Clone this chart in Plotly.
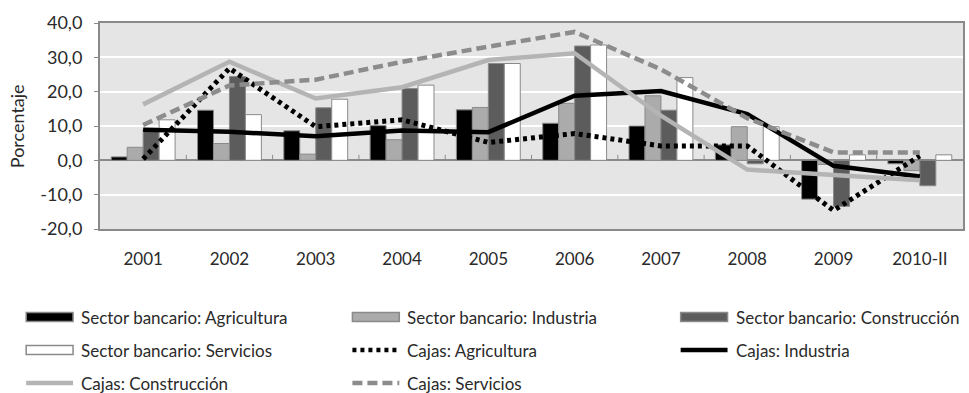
import plotly.graph_objects as go

# Tasa de variación anual del crédito por sector (%)
years = ["2001", "2002", "2003", "2004", "2005", "2006", "2007", "2008", "2009", "2010-II"]

sb_agricultura = [1.0, 14.6, 8.6, 10.1, 14.7, 10.8, 10.0, 4.5, -11.3, -1.0]
sb_industria = [3.8, 4.9, 1.8, 6.0, 15.4, 16.6, 18.8, 9.8, -1.2, -3.0]
sb_construccion = [9.1, 24.4, 15.3, 20.9, 28.2, 33.3, 14.6, -1.0, -13.4, -7.4]
sb_servicios = [11.8, 13.3, 17.8, 21.9, 28.2, 33.6, 24.1, 9.8, 1.6, 1.6]

cj_agricultura = [0.4, 26.8, 9.8, 11.8, 5.2, 7.8, 4.2, 4.2, -14.6, 1.3]
cj_industria = [8.9, 8.3, 7.0, 8.7, 8.2, 18.8, 20.2, 13.5, -1.6, -4.7]
cj_construccion = [16.3, 28.7, 18.0, 21.3, 29.2, 31.2, 13.0, -2.7, -4.3, -5.8]
cj_servicios = [10.3, 21.8, 23.5, 28.7, 33.1, 37.4, 26.5, 12.3, 2.3, 2.3]

y_ticks = [-20, -10, 0, 10, 20, 30, 40]
y_tick_labels = ["-20,0", "-10,0", "0,0", "10,0", "20,0", "30,0", "40,0"]

FONT = "Lato"
TEXT = "#2a2a2a"
W, H = 969, 393
ML, MR, MT, MB = 100, 4, 23, 164
PLOT_W = W - ML - MR
PLOT_H = H - MT - MB

GREY_EDGE = "#8a8a8a"

bar_series = [
    ("Sector bancario: Agricultura", sb_agricultura, "#000000", GREY_EDGE),
    ("Sector bancario: Industria", sb_industria, "#ababab", GREY_EDGE),
    ("Sector bancario: Construcción", sb_construccion, "#5c5c5c", GREY_EDGE),
    ("Sector bancario: Servicios", sb_servicios, "#ffffff", GREY_EDGE),
]
line_series = [
    ("Cajas: Agricultura", cj_agricultura, "#000000", "4px,4px", 5),
    ("Cajas: Industria", cj_industria, "#000000", "solid", 4.5),
    ("Cajas: Construcción", cj_construccion, "#b4b4b4", "solid", 4.5),
    ("Cajas: Servicios", cj_servicios, "#8c8c8c", "10px,5px", 4.5),
]

fig = go.Figure()

for name, vals, fill, edge in bar_series:
    fig.add_trace(go.Bar(
        x=years, y=vals, name=name, showlegend=False,
        marker=dict(color=fill, line=dict(color=edge, width=1)),
    ))

for name, vals, color, dash, width in line_series:
    fig.add_trace(go.Scatter(
        x=years, y=vals, name=name, mode="lines", showlegend=False,
        line=dict(color=color, dash=dash, width=width),
    ))


def px_x(px):
    return (px - ML) / PLOT_W


def px_y(py):
    return (MT + PLOT_H - py) / PLOT_H


shapes = []
annotations = []

# small category separators on the zero line
for i in range(len(years) - 1):
    shapes.append(dict(type="line", xref="x", yref="y", x0=i + 0.5, x1=i + 0.5,
                       y0=0, y1=1.6, line=dict(color=GREY_EDGE, width=1)))

# legend: three columns, row-major order
col_x = [26, 353, 682]
row_y = [317, 350, 383]
sw_w = 47
entries = [("bar", b) for b in bar_series] + [("line", l) for l in line_series]
for k, (kind, spec) in enumerate(entries):
    cx = col_x[k % 3]
    cy = row_y[k // 3]
    if kind == "bar":
        name, _, fill, edge = spec
        shapes.append(dict(type="rect", xref="paper", yref="paper",
                           x0=px_x(cx), x1=px_x(cx + sw_w),
                           y0=px_y(cy + 4.5), y1=px_y(cy - 4.5),
                           fillcolor=fill, line=dict(color=edge, width=1.5)))
    else:
        name, _, color, dash, width = spec
        shapes.append(dict(type="line", xref="paper", yref="paper",
                           x0=px_x(cx), x1=px_x(cx + sw_w),
                           y0=px_y(cy), y1=px_y(cy),
                           line=dict(color=color, dash=dash, width=min(width, 4.5))))
    annotations.append(dict(text=name, xref="paper", yref="paper",
                            x=px_x(cx + sw_w + 6), y=px_y(cy),
                            xanchor="left", yanchor="middle", showarrow=False,
                            font=dict(family=FONT, size=17, color=TEXT)))

annotations.append(dict(text="Porcentaje", xref="paper", yref="paper",
                        x=px_x(17), y=0.5, textangle=-90, showarrow=False,
                        xanchor="center", yanchor="middle",
                        font=dict(family=FONT, size=18, color=TEXT)))

fig.update_layout(
    width=W, height=H,
    margin=dict(l=ML, r=MR, t=MT, b=MB),
    paper_bgcolor="#ffffff",
    plot_bgcolor="#e5e5e5",
    barmode="group", bargap=0.26, bargroupgap=0,
    font=dict(family=FONT, size=17, color=TEXT),
    shapes=shapes, annotations=annotations,
    xaxis=dict(
        type="category", showgrid=False, zeroline=False,
        showline=True, mirror=True, linecolor=GREY_EDGE, linewidth=2,
        ticks="", ticklabelstandoff=14,
        tickfont=dict(family=FONT, size=17, color=TEXT),
    ),
    yaxis=dict(
        range=[-20, 40], tickvals=y_ticks, ticktext=y_tick_labels,
        showgrid=True, gridcolor="#ffffff", gridwidth=1.5,
        zeroline=True, zerolinecolor=GREY_EDGE, zerolinewidth=1.5,
        showline=True, mirror=True, linecolor=GREY_EDGE, linewidth=2,
        ticks="outside", ticklen=4, tickcolor=GREY_EDGE,
        ticklabelstandoff=8,
        tickfont=dict(family=FONT, size=18, color=TEXT),
    ),
)

fig.write_html("out.html")
